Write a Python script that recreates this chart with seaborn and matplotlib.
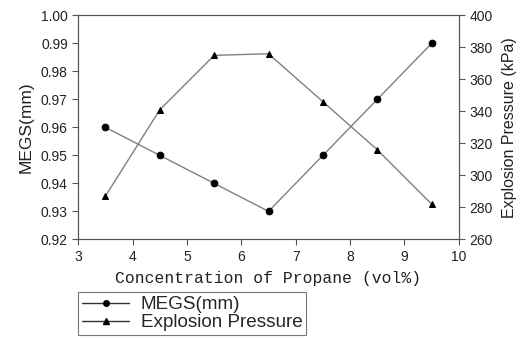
import matplotlib
matplotlib.use("Agg")
import matplotlib.pyplot as plt
import seaborn as sns
import pandas as pd
from matplotlib.lines import Line2D

concentration = [3.5, 4.5, 5.5, 6.5, 7.5, 8.5, 9.5]
megs = [0.96, 0.95, 0.94, 0.93, 0.95, 0.97, 0.99]
pressure = [287, 341, 375, 376, 346, 316, 282]

sns.set_style("white")
plt.rcParams['font.family'] = ['Liberation Sans', 'DejaVu Sans']

df = pd.DataFrame({"c": concentration, "megs": megs, "p": pressure})

fig = plt.figure(figsize=(5.25, 3.41), dpi=100)
ax = fig.add_axes([0.149, 0.298, 0.725, 0.657])
ax2 = ax.twinx()

line_col = "#808080"
sns.lineplot(data=df, x="c", y="megs", ax=ax, color=line_col, lw=1.0,
             marker="o", markersize=4.8, markerfacecolor="black", markeredgecolor="black")
sns.lineplot(data=df, x="c", y="p", ax=ax2, color=line_col, lw=1.0,
             marker="^", markersize=4.8, markerfacecolor="black", markeredgecolor="black")

ax.set_xlim(3, 10)
ax.set_ylim(0.92, 1.00)
ax2.set_ylim(260, 400)
ax.set_xticks(range(3, 11))
yt = [0.92, 0.93, 0.94, 0.95, 0.96, 0.97, 0.98, 0.99, 1.00]
ax.set_yticks(yt)
ax.set_yticklabels([f"{v:.2f}" for v in yt])
ax2.set_yticks(range(260, 401, 20))

for a in (ax, ax2):
    for s in a.spines.values():
        s.set_color("#555555")
        s.set_linewidth(0.8)
    a.tick_params(direction="out", length=4, width=0.8, color="#555555",
                  labelsize=10, labelcolor="#222222")
ax.tick_params(axis="both", left=True, bottom=True)
ax2.tick_params(axis="y", right=True)

ax.set_xlabel("Concentration of Propane (vol%)", family=["Liberation Mono", "DejaVu Sans Mono"],
              fontsize=11.8, color="#222222", labelpad=5.5)
ax.set_ylabel("MEGS(mm)", fontsize=12.5, color="#222222", labelpad=5)
ax2.set_ylabel("Explosion Pressure (kPa)", fontsize=11.5, color="#222222", labelpad=7)

handles = [
    Line2D([], [], color="#333333", lw=1.0, marker="o", markersize=4,
           markerfacecolor="black", markeredgecolor="black"),
    Line2D([], [], color="#333333", lw=1.0, marker="^", markersize=4,
           markerfacecolor="black", markeredgecolor="black"),
]
leg = fig.legend(handles, ["MEGS(mm)", "Explosion Pressure"], loc="upper left",
                 bbox_to_anchor=(0.149, 0.143), fontsize=13.6, frameon=True,
                 fancybox=False, borderpad=0.2, labelspacing=0.05, handlelength=2.5,
                 handletextpad=0.6, borderaxespad=0)
leg.get_frame().set_edgecolor("#555555")
leg.get_frame().set_linewidth(0.8)

fig.savefig("out.png", dpi=100)
